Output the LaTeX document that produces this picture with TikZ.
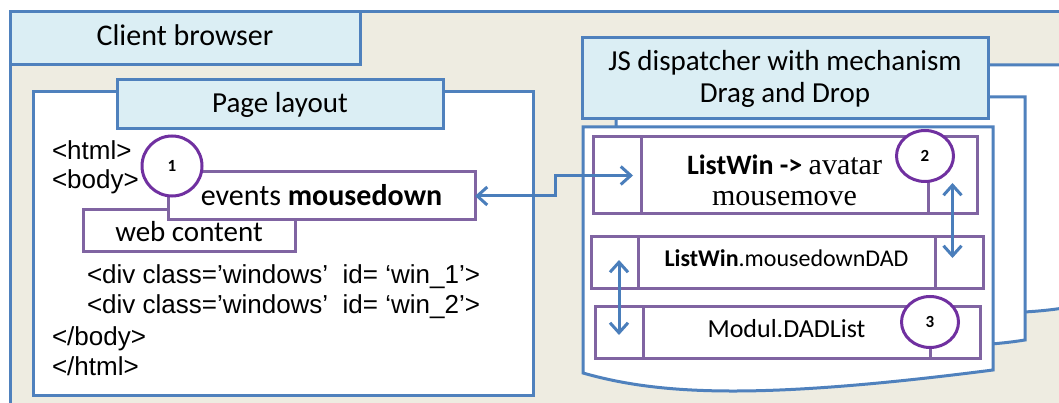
\documentclass[tikz,border=0pt]{standalone}
\usepackage{fontspec}
\setmainfont{Carlito}
\newfontfamily\arialfont{Liberation Sans}
\newfontfamily\timesfont{Liberation Serif}
\usetikzlibrary{calc,positioning,arrows.meta,shapes.geometric}

\definecolor{frameblue}{RGB}{79,129,189}
\definecolor{tabblue}{RGB}{219,238,244}
\definecolor{paper}{RGB}{238,236,225}
\definecolor{boxpurple}{RGB}{128,100,162}
\definecolor{ringpurple}{RGB}{112,48,160}
\definecolor{arrowblue}{RGB}{74,126,187}

\begin{document}
\begin{tikzpicture}[
  x=1pt, y=-1pt,
  every node/.style={
    outer sep=0pt, inner sep=0pt,
    font=\fontsize{29}{32}\selectfont,
  },
  lift/.style={text height=#1, text depth=0pt},
  tab/.style={draw=frameblue, fill=tabblue, line width=3pt},
  sheet/.style={draw=frameblue, fill=white, line width=3pt},
  pbox/.style={
    draw=boxpurple, fill=white, line width=3pt,
    minimum height=#1,
  },
  ring/.style={
    ellipse, draw=ringpurple, fill=white, line width=3pt,
    font=\fontsize{17}{17}\selectfont\bfseries,
  },
  code/.style={anchor=base west, font=\arialfont\fontsize{26}{30}\selectfont},
  link/.style={
    draw=arrowblue, line width=3pt,
    {Straight Barb[length=10pt,width=18pt]}-{Straight Barb[length=10pt,width=18pt]},
  },
]

  \useasboundingbox (0,0) rectangle (1059,403);
  \fill[paper] (10,12) rectangle (1059,403);
  \draw[frameblue, line width=3pt] (10,403) -- (10,12) -- (1059,12);

  \node[tab, lift=15pt, minimum width=350pt, minimum height=53pt, font=\fontsize{30}{32}\selectfont] (browser) at (185,38.5) {Client browser};

  % page layout
  \node[sheet, minimum width=500pt, minimum height=303pt] (page) at (283,243.5) {};
  \node[tab, lift=17pt, minimum width=326pt, minimum height=49pt] (layout) at (280,104.5) {Page layout};

  \node[code] (html) at (52,160) {<html>};
  \node[code] (body) at (52,189) {<body>};
  \node[code] (div1) at (87,283) {<div class=’windows’\ \ id= ‘win\_1’>};
  \node[code] (div2) at (87,313) {<div class=’windows’\ \ id= ‘win\_2’>};
  \node[code] (bodyend) at (52,345) {</body>};
  \node[code] (htmlend) at (52,375) {</html>};

  \node[pbox=41pt, lift=23pt, minimum width=212pt] (web) at (189,230.5) {web content};
  \node[pbox=48pt, lift=20pt, minimum width=307pt, font=\fontsize{30}{32}\selectfont] (events) at (321.5,196) {events \textbf{mousedown}};
  \node[ring, minimum width=60pt, minimum height=60pt] (n1) at (172,166) {1};

  % dispatcher pages
  \draw[sheet] (650,65) -- (1075,65) -- (1075,306)
    .. controls (950,330) and (800,280) .. (650,310) -- cycle;
  \draw[sheet] (616,97) -- (1025,97) -- (1025,340)
    .. controls (900,360) and (750,320) .. (616,345) -- cycle;
  \node[tab, align=center, minimum width=406pt, minimum height=81pt] (disp) at (785,78.5)
    {JS dispatcher with mechanism\\Drag and Drop};
  \draw[sheet] (583,127) -- (993,127) -- (993,370)
    .. controls (760,400) and (660,395) .. (583,373) -- cycle;

  \node[pbox=77pt, minimum width=48pt] (r1l) at (617,175.5) {};
  \node[pbox=77pt, minimum width=287pt, right=0pt of r1l] (r1m) {};
  \node[pbox=77pt, minimum width=49pt, right=0pt of r1m] (r1r) {};
  \node[align=center, font=\fontsize{28}{31}\selectfont] (r1txt) at ($(r1m.center)+(0,5)$)
    {\textbf{ListWin ->} {\timesfont\fontsize{30}{31}\selectfont avatar}\\
     {\timesfont\fontsize{30}{31}\selectfont mousemove}};

  \node[pbox=51pt, minimum width=47pt] (r2l) at (614.5,262.5) {};
  \node[pbox=51pt, lift=7pt, minimum width=297pt, right=0pt of r2l, font=\fontsize{24}{24}\selectfont] (r2m)
    {\textbf{ListWin}.mousedownDAD};
  \node[pbox=51pt, minimum width=48pt, right=0pt of r2m] (r2r) {};

  \node[pbox=52pt, minimum width=48pt] (r3l) at (619,332) {};
  \node[pbox=52pt, lift=10pt, minimum width=287pt, right=0pt of r3l, font=\fontsize{26}{26}\selectfont] (r3m)
    {Modul.DADList};
  \node[pbox=52pt, minimum width=50pt, right=0pt of r3m] (r3r) {};

  \node[ring, minimum width=57pt, minimum height=51pt] (n2) at (925,156) {2};
  \node[ring, minimum width=57pt, minimum height=51pt] (n3) at (930,322) {3};

  % connectors
  \draw[link, shorten >=8pt] (events.east) -- ($(events.east)+(80,0)$) |- (r1m.west);
  \draw[link] ($(r1r.center)+(0,7.5)$) -- ($(r1r.center |- r2r.center)+(0,-4.5)$);
  \draw[link] ($(r3l.center |- r2l.center)+(0,-2.5)$) -- ($(r3l.center)+(0,3)$);

\end{tikzpicture}
\end{document}
